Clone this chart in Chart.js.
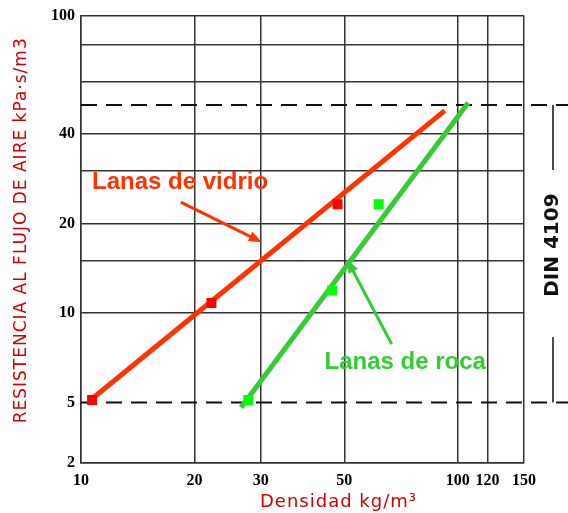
<!DOCTYPE html>
<html>
<head>
<meta charset="utf-8">
<script src="https://cdn.jsdelivr.net/npm/chart.js@4/dist/chart.umd.min.js"></script>
<style>
  html, body { margin: 0; padding: 0; background: #fff; }
  #wrap { width: 568px; height: 513px; }
</style>
</head>
<body>
<div id="wrap"><canvas id="chart" width="568" height="513"></canvas></div>
<script>
// Air flow resistance vs density, glass wool and rock wool (log-log)

// x axis: density kg/m3
const xTicks = [10, 20, 30, 50, 100, 120, 150];

// y axis: the printed axis is squeezed below 5, its bottom edge is labelled 2
const yFloor = 3.13;
const yTicks = [yFloor, 5, 10, 15, 20, 30, 40, 60, 80, 100];
const yTickLabels = ['2', '5', '10', '', '20', '', '40', '', '', '100'];

// glass wool (Lanas de vidrio): measured points and fitted line
const vidrioX = [10.7, 22.2, 48];
const vidrioY = [5.1, 10.8, 23.2];
const vidrioFitX = [10.8, 92.4];
const vidrioFitY = [5.2, 47.9];

// rock wool (Lanas de roca): measured points and fitted line
const rocaX = [27.8, 46.4, 61.7];
const rocaY = [5.1, 11.9, 23.2];
const rocaFitX = [26.6, 106.6];
const rocaFitY = [4.81, 50.9];

// DIN 4109 band
const dinX = [10, 200];
const dinUpper = 50;
const dinLower = 5;

// label / arrow anchors (data coords)
const vidrioLabel = { x: 10.7, y: 26.2 };
const vidrioArrow = { x0: 18.4, y0: 23.6, x1: 30.2, y1: 17.3 };
const rocaLabel = { x: 44.3, y: 6.5 };
const rocaArrow = { x0: 66.8, y0: 7.86, x1: 50.9, y1: 15.1 };

const VIDRIO = '#ff3300';
const VIDRIO_PT = '#ff0000';
const ROCA = '#33cc33';
const ROCA_PT = '#00ff00';
const GRID = '#333333';
const TITLE_RED = '#cc0000';

function toPoints(xs, ys) {
    return xs.map((v, i) => ({ x: v, y: ys[i] }));
}

function arrow(ctx, x0, y0, x1, y1, color) {
    const a = Math.atan2(y1 - y0, x1 - x0);
    const head = 14;
    ctx.strokeStyle = color;
    ctx.fillStyle = color;
    ctx.lineWidth = 3;
    ctx.beginPath();
    ctx.moveTo(x0, y0);
    ctx.lineTo(x1 - Math.cos(a) * head * 0.7, y1 - Math.sin(a) * head * 0.7);
    ctx.stroke();
    ctx.beginPath();
    ctx.moveTo(x1, y1);
    ctx.lineTo(x1 - head * Math.cos(a - 0.38), y1 - head * Math.sin(a - 0.38));
    ctx.lineTo(x1 - head * Math.cos(a + 0.38), y1 - head * Math.sin(a + 0.38));
    ctx.closePath();
    ctx.fill();
}

// texts, arrows, DIN bracket and axis titles
const notes = {
    id: 'notes',
    afterDraw(chart) {
        const { ctx, chartArea } = chart;
        const x = chart.scales.x, y = chart.scales.y;
        const px = v => x.getPixelForValue(v);
        const py = v => y.getPixelForValue(v);
        ctx.save();

        ctx.font = 'bold 24px "Liberation Sans", Arial, sans-serif';
        ctx.textAlign = 'left';
        ctx.textBaseline = 'alphabetic';
        ctx.fillStyle = VIDRIO;
        ctx.fillText('Lanas de vidrio', px(vidrioLabel.x), py(vidrioLabel.y));
        arrow(ctx, px(vidrioArrow.x0), py(vidrioArrow.y0), px(vidrioArrow.x1), py(vidrioArrow.y1), VIDRIO);

        ctx.fillStyle = ROCA;
        ctx.fillText('Lanas de roca', px(rocaLabel.x), py(rocaLabel.y));
        arrow(ctx, px(rocaArrow.x0), py(rocaArrow.y0), px(rocaArrow.x1), py(rocaArrow.y1), ROCA);

        // DIN 4109 bracket
        const bx = chartArea.right + 29;
        const top = py(dinUpper), bot = py(dinLower);
        ctx.strokeStyle = '#111';
        ctx.lineWidth = 1.5;
        ctx.beginPath();
        ctx.moveTo(bx, top);
        ctx.lineTo(bx, top + 65);
        ctx.moveTo(bx, top + 232);
        ctx.lineTo(bx, bot);
        ctx.stroke();
        ctx.save();
        ctx.translate(bx, top + 140);
        ctx.rotate(-Math.PI / 2);
        ctx.font = 'bold 20px "DejaVu Sans", sans-serif';
        ctx.fillStyle = '#111';
        ctx.textAlign = 'center';
        ctx.textBaseline = 'middle';
        ctx.fillText('DIN 4109', 0, 0);
        ctx.restore();

        // axis titles
        ctx.fillStyle = TITLE_RED;
        ctx.textAlign = 'center';
        ctx.textBaseline = 'middle';
        ctx.letterSpacing = '1px';
        ctx.save();
        ctx.translate(22, (chartArea.top + chartArea.bottom) / 2 - 9);
        ctx.rotate(-Math.PI / 2);
        ctx.font = '17px "DejaVu Sans", sans-serif';
        ctx.fillText('RESISTENCIA AL FLUJO DE AIRE kPa·s/m3', 0, 0);
        ctx.restore();
        ctx.font = '18px "DejaVu Sans", sans-serif';
        ctx.fillText('Densidad kg/m³', (chartArea.left + chartArea.right) / 2 + 36, chartArea.bottom + 39);

        ctx.restore();
    }
};

new Chart(document.getElementById('chart'), {
    type: 'scatter',
    data: {
        datasets: [
            {
                data: toPoints(vidrioX, vidrioY),
                backgroundColor: VIDRIO_PT,
                borderWidth: 0,
                pointStyle: 'rect',
                pointRadius: 7
            },
            {
                data: toPoints(rocaX, rocaY),
                backgroundColor: ROCA_PT,
                borderWidth: 0,
                pointStyle: 'rect',
                pointRadius: 7
            },
            {
                data: toPoints(vidrioFitX, vidrioFitY),
                showLine: true,
                borderColor: VIDRIO,
                borderWidth: 5,
                pointRadius: 0
            },
            {
                data: toPoints(rocaFitX, rocaFitY),
                showLine: true,
                borderColor: ROCA,
                borderWidth: 5,
                pointRadius: 0
            },
            {
                data: toPoints(dinX, dinX.map(() => dinUpper)),
                showLine: true,
                borderColor: '#111',
                borderWidth: 2,
                borderDash: [16, 9],
                pointRadius: 0,
                clip: false
            },
            {
                data: toPoints(dinX, dinX.map(() => dinLower)),
                showLine: true,
                borderColor: '#111',
                borderWidth: 2,
                borderDash: [16, 9],
                pointRadius: 0,
                clip: false
            }
        ]
    },
    options: {
        responsive: false,
        animation: false,
        layout: { padding: { top: 15, right: 44, left: 0, bottom: 0 } },
        plugins: {
            legend: { display: false },
            tooltip: { enabled: false }
        },
        scales: {
            x: {
                type: 'logarithmic',
                min: 10,
                max: 150,
                afterBuildTicks: scale => { scale.ticks = xTicks.map(v => ({ value: v })); },
                afterFit: scale => { scale.height = 50; },
                ticks: {
                    autoSkip: false,
                    maxRotation: 0,
                    padding: 8,
                    color: '#000',
                    font: { family: '"Liberation Serif", "Times New Roman", serif', weight: 'bold', size: 16 },
                    callback: value => String(value)
                },
                grid: { color: GRID, lineWidth: 1.5, drawTicks: false },
                border: { color: GRID, width: 1.5 }
            },
            y: {
                type: 'logarithmic',
                min: yFloor,
                max: 100,
                afterBuildTicks: scale => { scale.ticks = yTicks.map(v => ({ value: v })); },
                afterFit: scale => { scale.width = 81; },
                ticks: {
                    autoSkip: false,
                    padding: 6,
                    color: '#000',
                    font: { family: '"Liberation Serif", "Times New Roman", serif', weight: 'bold', size: 16 },
                    callback: (value, index) => yTickLabels[index]
                },
                grid: {
                    color: ctx => (ctx.tick && ctx.tick.value === dinLower ? 'rgba(0,0,0,0)' : GRID),
                    lineWidth: 1.5,
                    drawTicks: false
                },
                border: { color: GRID, width: 1.5 }
            }
        }
    },
    plugins: [notes]
});
</script>
</body>
</html>
